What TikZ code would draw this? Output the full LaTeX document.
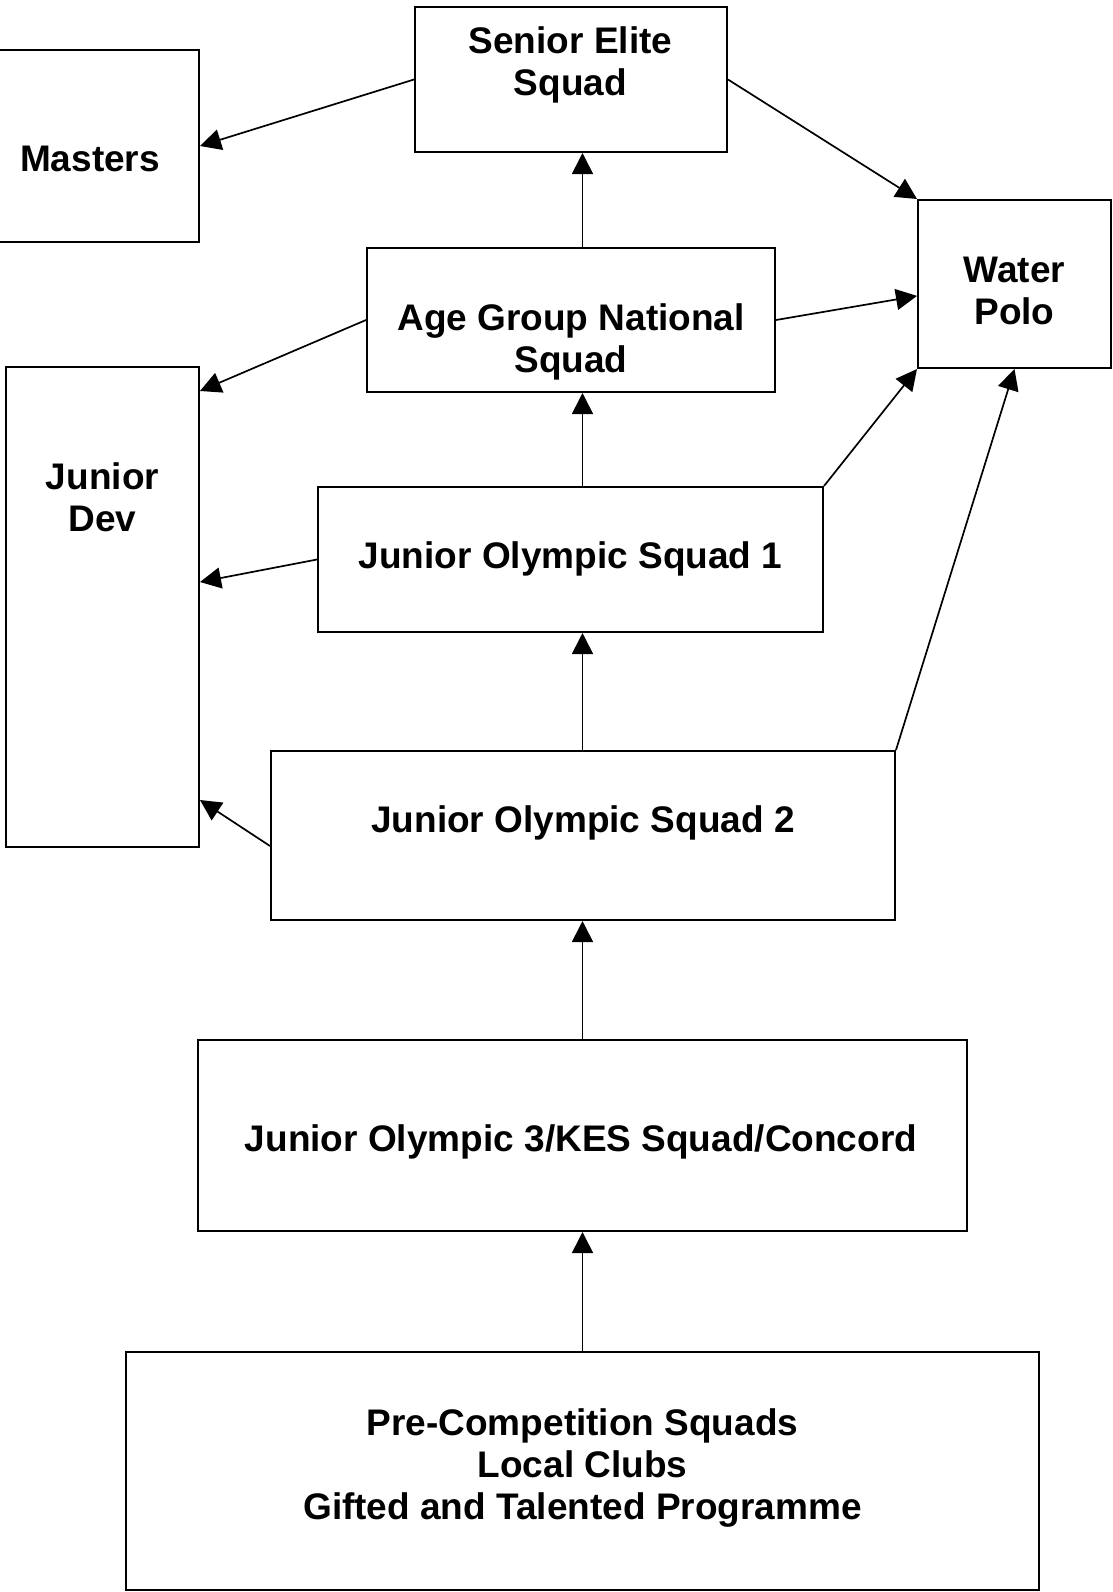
\documentclass[tikz,border=0pt]{standalone}
\usepackage{fontspec}
\setmainfont{Liberation Sans}
\usetikzlibrary{arrows.meta,calc,fit}
\begin{document}
\begin{tikzpicture}[x=0.5pt,y=-0.5pt,
  box/.style={draw=black,line width=1pt,inner sep=0pt,rectangle},
  lbl/.style={font=\fontsize{18.5pt}{21pt}\selectfont\bfseries,align=center,inner sep=0pt,anchor=center},
  arr/.style={draw=black,line width=0.85pt,-{Triangle[length=10.5pt,width=10.5pt]}}]
\useasboundingbox (0,0) rectangle (1113,1592);
% boxes
\node[box,fit={(415,7) (727,152)}] (se) {};
\node[box,fit={(-19,50) (199,242)}] (ms) {};
\node[box,fit={(918,200) (1111,368)}] (wp) {};
\node[box,fit={(367,248) (775,392)}] (ag) {};
\node[box,fit={(6,367) (199,847)}] (jd) {};
\node[box,fit={(318,487) (823,632)}] (j1) {};
\node[box,fit={(271,751) (895,920)}] (j2) {};
\node[box,fit={(198,1040) (967,1231)}] (j3) {};
\node[box,fit={(126,1352) (1039,1590)}] (pc) {};
% labels
\node[lbl] (seT) at (570.5,65) {Senior Elite\\Squad};
\node[lbl] (msT) at (90,159) {Masters};
\node[lbl] (wpT) at (1014.5,290.5) {Water\\Polo};
\node[lbl] (agT) at (571,341.5) {Age Group National\\Squad};
\node[lbl] (jdT) at (102.5,497) {Junior\\Dev};
\node[lbl] (j1T) at (570.5,559) {Junior Olympic Squad 1};
\node[lbl] (j2T) at (583,823) {Junior Olympic Squad 2};
\node[lbl] (j3T) at (581,1142) {Junior Olympic 3/KES Squad/Concord};
\node[lbl] (pcT) at (582.5,1468) {Pre-Competition Squads\\Local Clubs\\Gifted and Talented Programme};
% connectors
\draw[arr] (se.west) -- (ms.east);
\draw[arr] (se.east) -- (wp.north west);
\draw[arr] (ag.east) -- ($(wp.north west)!0.57!(wp.south west)$);
\draw[arr] (ag.west) -- ($(jd.north east)+(0,25)$);
\draw[arr] (j1.west) -- ($(jd.north east)+(0,216)$);
\draw[arr] ($(j2.north west)+(0,96)$) -- ($(jd.north east)+(0,434)$);
\draw[arr] (j1.north east) -- (wp.south west);
\draw[arr] (j2.north east) -- (wp.south);
\draw[arr] (ag.north -| j3.center) -- (se.south -| j3.center);
\draw[arr] (j1.north -| j3.center) -- (ag.south -| j3.center);
\draw[arr] (j2.north -| j3.center) -- (j1.south -| j3.center);
\draw[arr] (j3.north -| j3.center) -- (j2.south -| j3.center);
\draw[arr] (pc.north -| j3.center) -- (j3.south -| j3.center);
\end{tikzpicture}
\end{document}
